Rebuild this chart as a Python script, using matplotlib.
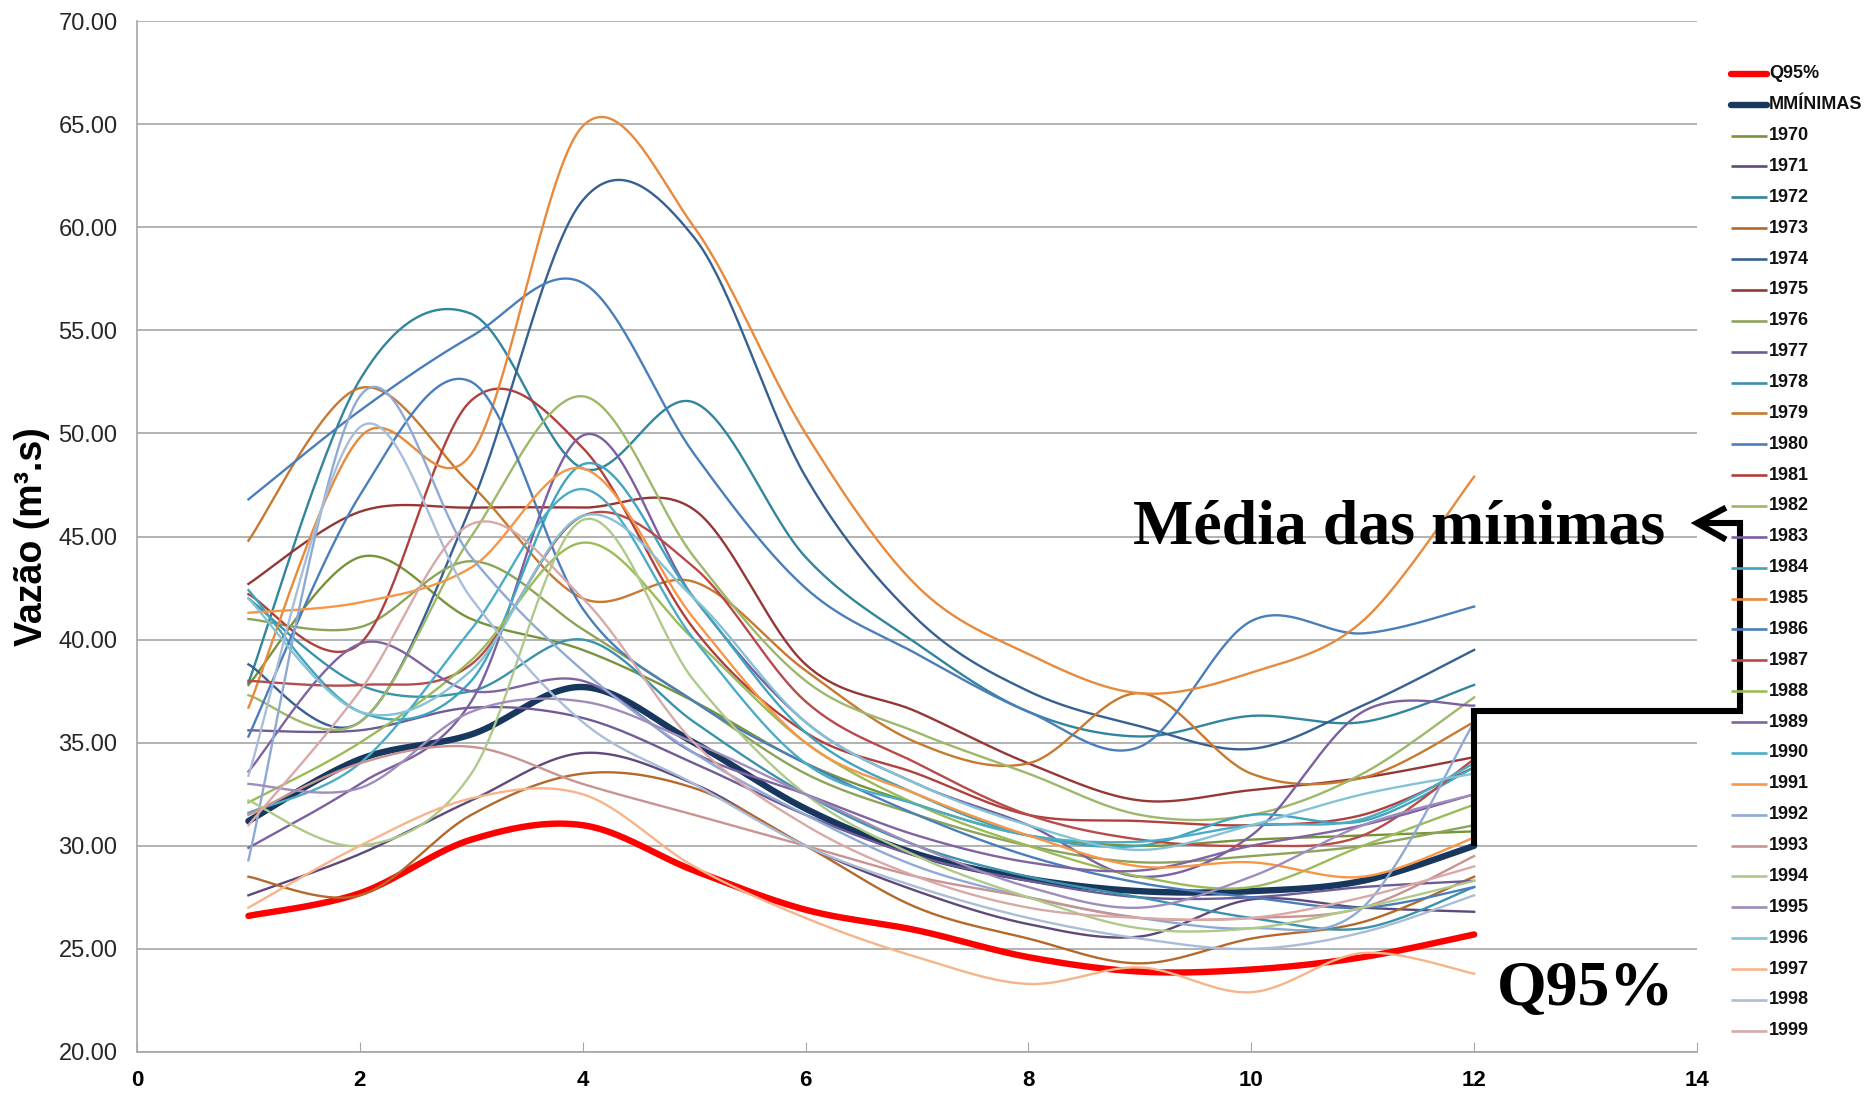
import numpy as np
import matplotlib
matplotlib.use("Agg")
import matplotlib.pyplot as plt

months = list(range(1, 13))

q95 = [26.6, 27.7, 30.3, 31.0, 28.8, 26.9, 25.9, 24.6, 23.9, 24.0, 24.6, 25.7]
mminimas = [31.2, 34.2, 35.4, 37.7, 35.0, 31.8, 29.6, 28.4, 27.8, 27.8, 28.3, 30.0]

years = [str(y) for y in range(1970, 2000)]
y1970 = [37.8, 44.0, 41.0, 39.5, 37.0, 34.0, 32.0, 30.5, 30.0, 30.3, 30.5, 30.7]
y1971 = [27.6, 29.6, 32.2, 34.5, 33.0, 30.0, 27.8, 26.2, 25.6, 27.4, 27.0, 26.8]
y1972 = [37.9, 52.6, 55.8, 48.3, 51.5, 44.0, 39.8, 36.5, 35.3, 36.3, 36.0, 37.8]
y1973 = [28.5, 27.6, 31.5, 33.5, 32.8, 30.0, 27.0, 25.5, 24.3, 25.5, 26.3, 28.5]
y1974 = [38.8, 36.0, 46.5, 61.3, 59.5, 47.9, 41.0, 37.5, 35.8, 34.7, 36.8, 39.5]
y1975 = [42.7, 46.2, 46.4, 46.4, 46.3, 38.8, 36.5, 34.0, 32.2, 32.7, 33.3, 34.3]
y1976 = [41.0, 40.6, 43.8, 40.5, 37.0, 33.5, 31.5, 30.0, 29.2, 29.5, 30.0, 31.0]
y1977 = [35.6, 35.6, 36.7, 36.2, 34.0, 31.5, 29.5, 28.3, 27.5, 27.5, 28.0, 28.3]
y1978 = [42.0, 37.8, 37.5, 40.0, 36.0, 32.5, 30.0, 28.5, 27.5, 26.5, 26.0, 28.0]
y1979 = [44.8, 52.2, 47.5, 42.0, 42.8, 38.5, 35.0, 34.0, 37.4, 33.5, 33.3, 36.0]
y1980 = [46.8, 51.1, 54.7, 57.3, 49.0, 42.5, 39.3, 36.5, 34.8, 40.9, 40.3, 41.6]
y1981 = [42.2, 39.8, 51.6, 49.3, 40.5, 35.5, 33.5, 31.5, 31.2, 31.0, 31.5, 33.8]
y1982 = [37.3, 36.0, 45.0, 51.8, 44.0, 38.0, 35.5, 33.5, 31.5, 31.5, 33.5, 37.2]
y1983 = [29.9, 33.0, 37.0, 49.9, 42.0, 36.0, 33.0, 31.0, 28.5, 30.5, 36.5, 36.8]
y1984 = [42.4, 36.5, 38.0, 48.5, 42.0, 35.5, 32.5, 30.5, 30.0, 31.5, 31.2, 33.8]
y1985 = [36.7, 49.8, 49.0, 64.9, 60.0, 50.0, 42.6, 39.3, 37.4, 38.4, 40.9, 47.9]
y1986 = [35.3, 47.0, 52.5, 41.5, 37.0, 34.0, 31.5, 29.5, 28.2, 27.5, 27.0, 28.0]
y1987 = [38.0, 37.8, 38.8, 46.0, 43.5, 37.0, 34.0, 31.5, 30.3, 30.0, 30.5, 34.2]
y1988 = [32.1, 35.0, 39.0, 44.7, 40.0, 35.0, 32.0, 30.0, 28.5, 28.0, 30.0, 32.0]
y1989 = [33.6, 39.8, 37.5, 38.0, 34.5, 32.5, 30.5, 29.2, 28.8, 30.0, 31.0, 32.5]
y1990 = [31.6, 34.0, 40.5, 47.3, 40.0, 34.0, 32.0, 30.5, 30.2, 31.0, 31.3, 34.0]
y1991 = [41.3, 41.8, 43.5, 48.3, 41.0, 35.0, 32.5, 30.5, 29.0, 29.2, 28.5, 30.4]
y1992 = [29.3, 51.8, 44.0, 38.5, 34.5, 31.5, 29.0, 27.5, 26.5, 26.0, 27.0, 36.0]
y1993 = [31.5, 34.0, 34.8, 33.0, 31.5, 30.0, 28.5, 27.5, 26.5, 26.5, 27.0, 29.5]
y1994 = [32.2, 30.0, 33.5, 45.8, 38.0, 32.5, 29.5, 27.5, 26.0, 26.0, 27.0, 28.3]
y1995 = [33.0, 32.8, 36.5, 37.0, 35.0, 32.5, 30.0, 28.0, 27.0, 28.5, 31.0, 32.5]
y1996 = [42.0, 36.5, 38.5, 46.0, 42.0, 36.0, 33.0, 31.0, 29.8, 31.0, 32.5, 33.5]
y1997 = [27.0, 30.0, 32.3, 32.5, 29.0, 26.5, 24.6, 23.3, 24.1, 22.9, 24.8, 23.8]
y1998 = [33.4, 50.3, 42.0, 36.0, 33.0, 30.0, 28.0, 26.5, 25.5, 25.0, 25.8, 27.6]
y1999 = [31.0, 37.5, 45.6, 42.0, 35.0, 31.0, 28.5, 27.0, 26.5, 26.5, 27.5, 29.0]

series = [y1970, y1971, y1972, y1973, y1974, y1975, y1976, y1977, y1978, y1979,
          y1980, y1981, y1982, y1983, y1984, y1985, y1986, y1987, y1988, y1989,
          y1990, y1991, y1992, y1993, y1994, y1995, y1996, y1997, y1998, y1999]

colors = ["#77933C", "#5F497A", "#31859C", "#B3692B", "#376092", "#953735",
          "#8DA35A", "#6F5B97", "#3A93AB", "#C8782F", "#4A7EBB", "#B0403D",
          "#9DB86A", "#7B5FA0", "#3FA5BE", "#E8893B", "#4A7EBB", "#B84A4A",
          "#9BBB59", "#8064A2", "#4BACC6", "#F79646", "#8EAAD4", "#C99390",
          "#AFC98A", "#A08CBA", "#84C2D6", "#F5B48A", "#A9BDD9", "#D7A9A8"]


def smooth(x, y, n=40):
    """Excel-style smoothed line (Bezier with Catmull-Rom control points)."""
    x = np.asarray(x, float)
    y = np.asarray(y, float)
    P = np.column_stack([x, y])
    Pe = np.vstack([P[0], P, P[-1]])
    out = []
    t = np.linspace(0, 1, n)
    for i in range(len(P) - 1):
        p0 = Pe[i + 1]
        p3 = Pe[i + 2]
        p1 = p0 + (Pe[i + 2] - Pe[i]) / 6.0
        p2 = p3 - (Pe[i + 3] - Pe[i + 1]) / 6.0
        seg = ((1 - t) ** 3)[:, None] * p0 + (3 * (1 - t) ** 2 * t)[:, None] * p1 \
            + (3 * (1 - t) * t ** 2)[:, None] * p2 + (t ** 3)[:, None] * p3
        out.append(seg if i == 0 else seg[1:])
    s = np.vstack(out)
    return s[:, 0], s[:, 1]


W, H = 1866, 1096
fig = plt.figure(figsize=(W / 100, H / 100), dpi=100)
ax = fig.add_axes([137 / W, 1 - 1052 / H, (1697 - 137) / W, (1052 - 21) / H])

xs, ys = smooth(months, q95)
ax.plot(xs, ys, color="#FF0000", lw=4.6, solid_capstyle="round", zorder=2)
xs, ys = smooth(months, mminimas)
ax.plot(xs, ys, color="#17375E", lw=4.6, solid_capstyle="round", zorder=2)
for vals, c in zip(series, colors):
    xs, ys = smooth(months, vals)
    ax.plot(xs, ys, color=c, lw=1.7, zorder=3)

ax.set_xlim(0, 14)
ax.set_ylim(20, 70)
ax.set_xticks(range(0, 15, 2))
ax.set_yticks(np.arange(20, 70.1, 5))
ax.set_yticklabels([f"{v:.2f}" for v in np.arange(20, 70.1, 5)])
ax.grid(axis="y", color="#A6A6A6", lw=1.2, zorder=0)
for s in ["top", "right"]:
    ax.spines[s].set_visible(False)
ax.spines["left"].set_color("#A6A6A6")
ax.spines["bottom"].set_color("#A6A6A6")
ax.spines["left"].set_linewidth(1.2)
ax.spines["bottom"].set_linewidth(1.2)
ax.tick_params(axis="y", length=0, pad=14, labelsize=17, labelcolor="#262626")
ax.tick_params(axis="x", direction="in", length=7, color="#A6A6A6", pad=13,
               labelsize=16)
for lab in ax.get_yticklabels():
    lab.set_family(["Liberation Sans", "DejaVu Sans"])
for lab in ax.get_xticklabels():
    lab.set_family(["Liberation Sans", "DejaVu Sans"])
    lab.set_fontweight("bold")

ax.set_ylabel("Vazão (m³.s)", fontsize=27, fontweight="bold",
              family=["Liberation Sans", "DejaVu Sans"])
ax.yaxis.set_label_coords(-0.056, 0.5)

# annotations
ax.text(8.94, 45.4, "Média das mínimas", fontsize=46, fontweight="bold",
        family=["Liberation Serif", "DejaVu Serif"], ha="left", va="center",
        zorder=6, clip_on=False)
ax.text(12.2, 23.0, "Q95%", fontsize=46, fontweight="bold",
        family=["Liberation Serif", "DejaVu Serif"], ha="left", va="center",
        zorder=6, clip_on=False)

arrow_x = [12.0, 12.0, 14.39, 14.39, 14.0]
arrow_y = [mminimas[-1], 36.55, 36.55, 45.65, 45.65]
ax.plot(arrow_x, arrow_y, color="black", lw=4.4, clip_on=False, zorder=7,
        solid_joinstyle="miter", solid_capstyle="butt")
ax.plot([14.26, 14.0, 14.26], [46.4, 45.65, 44.85], color="black", lw=4.4,
        clip_on=False, zorder=7, solid_joinstyle="miter", solid_capstyle="butt")

# legend (manual, Excel style)
labels = ["Q95%", "MMÍNIMAS"] + years
lcolors = ["#FF0000", "#17375E"] + colors
lwidths = [4.6, 4.6] + [1.9] * len(years)
y0, step = 73.8, 30.87
for i, (lab, c, lw) in enumerate(zip(labels, lcolors, lwidths)):
    yy = 1 - (y0 + i * step) / H
    fig.add_artist(plt.Line2D([1731 / W, 1767 / W], [yy, yy], color=c, lw=lw,
                              transform=fig.transFigure,
                              solid_capstyle="round" if lw > 3 else "butt"))
    fig.text(1769 / W, yy, lab, fontsize=13, fontweight="bold", va="center",
             ha="left", family=["Liberation Sans", "DejaVu Sans"],
             color="#111111")

fig.savefig("out.png", dpi=100, facecolor="white")
